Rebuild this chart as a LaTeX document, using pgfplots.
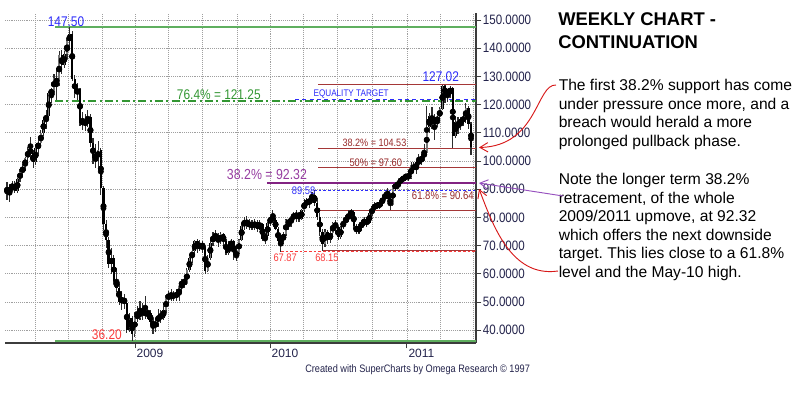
\documentclass[border=0pt]{standalone}
\usepackage{fontspec}
\setmainfont{Liberation Sans}
\newfontfamily\cf[FakeStretch=0.85]{Liberation Sans}
\usepackage{pgfplots}
\pgfplotsset{compat=1.18}
\usepackage{pgfplotstable}
\usetikzlibrary{arrows.meta}
\frenchspacing

\definecolor{lvlgreen}{RGB}{95,175,95}
\definecolor{dgreen}{RGB}{50,150,50}
\definecolor{lblue}{RGB}{45,45,250}
\definecolor{lvlred}{RGB}{165,55,55}
\definecolor{lblred}{RGB}{150,40,40}
\definecolor{brightred}{RGB}{250,60,60}
\definecolor{purp}{RGB}{130,35,130}
\definecolor{purplbl}{RGB}{150,60,160}
\definecolor{axcol}{RGB}{60,60,60}
\definecolor{tickcol}{RGB}{35,35,75}
\definecolor{upgray}{RGB}{120,120,120}
\definecolor{wickcol}{RGB}{45,45,45}
\definecolor{arrred}{RGB}{215,25,25}
\definecolor{arrpurp}{RGB}{150,80,190}

\pgfplotstableread{
i o h l c
0 90.5 92.5 86.0 89.0
1 89.0 92.0 85.5 90.5
2 90.5 93.0 89.0 91.5
3 91.5 93.0 88.5 89.5
4 89.5 94.0 88.5 93.5
5 93.5 97.0 92.5 96.0
6 96.0 99.0 94.5 98.0
7 98.0 101.5 96.5 101.0
8 101.0 105.0 99.5 104.0
9 104.0 108.5 102.0 103.0
10 103.0 104.0 97.5 99.5
11 99.5 106.0 98.5 104.5
12 104.5 108.0 102.5 106.5
13 106.5 111.0 105.0 110.0
14 110.0 115.5 109.0 114.5
15 114.5 118.0 111.5 116.0
16 116.0 124.5 115.0 124.0
17 124.0 126.0 120.5 125.0
18 125.0 131.0 123.5 129.5
19 129.5 133.0 121.5 127.5
20 127.5 139.0 126.5 137.5
21 137.5 139.5 131.0 134.0
22 134.0 139.0 133.0 138.0
23 138.0 143.5 136.0 142.5
24 142.5 147.5 139.5 145.0
25 145.0 146.0 128.5 129.0
26 129.0 130.5 122.5 124.0
27 124.0 127.5 121.5 125.5
28 125.5 126.0 112.5 113.5
29 113.5 117.5 111.0 114.0
30 114.0 116.5 110.5 113.0
31 113.0 118.0 112.0 115.5
32 115.5 116.5 105.0 106.5
33 106.5 108.0 99.0 101.0
34 101.0 106.0 97.5 100.5
35 100.5 107.0 98.0 104.0
36 104.0 104.5 88.0 90.5
37 90.5 91.0 75.5 77.5
38 77.5 79.0 69.0 72.0
39 72.0 73.0 62.0 63.5
40 63.5 69.0 60.0 65.5
41 65.5 66.5 56.5 57.5
42 57.5 61.0 53.5 55.0
43 55.0 57.0 49.0 50.0
44 50.0 54.0 47.0 51.5
45 51.5 53.0 47.5 49.5
46 49.5 50.0 39.0 40.0
47 40.0 46.0 39.5 44.5
48 44.5 45.0 36.2 38.5
49 38.5 46.5 37.5 45.5
50 45.5 48.5 43.0 44.5
51 44.5 50.5 43.5 47.0
52 47.0 49.5 43.5 46.5
53 46.5 52.0 44.0 45.5
54 45.5 48.5 44.0 46.0
55 46.0 47.0 42.0 43.0
56 43.0 44.5 38.5 41.5
57 41.5 44.5 39.5 42.5
58 42.5 47.5 41.0 45.5
59 45.5 47.0 42.5 44.5
60 44.5 48.5 43.5 47.0
61 47.0 52.5 46.0 51.5
62 51.5 54.0 49.5 52.5
63 52.5 54.5 50.5 51.5
64 51.5 54.0 50.5 53.0
65 53.0 54.5 50.5 52.0
66 52.0 56.0 50.5 55.5
67 55.5 58.0 53.5 57.5
68 57.5 59.5 55.0 56.5
69 56.5 62.0 56.0 61.5
70 61.5 66.0 60.5 65.5
71 65.5 69.0 64.0 68.0
72 68.0 72.0 67.0 71.5
73 71.5 72.5 67.5 69.0
74 69.0 72.0 68.0 70.5
75 70.5 71.5 67.5 69.5
76 69.5 70.0 60.0 61.0
77 61.0 66.5 60.5 65.5
78 65.5 72.0 65.0 71.0
79 71.0 75.0 70.0 73.5
80 73.5 75.5 71.5 73.0
81 73.0 74.5 69.5 71.5
82 71.5 75.0 70.5 74.0
83 74.0 74.5 70.0 71.5
84 71.5 72.5 66.5 67.5
85 67.5 71.5 66.5 70.0
86 70.0 72.5 68.5 71.5
87 71.5 72.0 65.0 66.5
88 66.5 68.5 64.5 67.5
89 67.5 72.5 67.0 72.0
90 72.0 78.0 71.5 77.0
91 77.0 80.0 75.5 79.0
92 79.0 80.5 76.0 77.0
93 77.0 79.5 75.5 78.0
94 78.0 79.0 75.5 76.5
95 76.5 79.5 75.5 78.5
96 78.5 79.0 75.0 76.0
97 76.0 79.0 75.5 77.5
98 77.5 78.0 71.5 72.5
99 72.5 74.5 70.5 73.5
100 73.5 78.5 73.0 78.0
101 78.0 80.5 77.0 80.0
102 80.0 82.5 78.5 79.0
103 79.0 79.5 75.5 76.0
104 76.0 76.5 70.5 71.5
105 71.5 73.5 67.87 72.0
106 72.0 75.0 70.5 74.0
107 74.0 79.5 73.5 79.0
108 79.0 79.5 75.5 77.5
109 77.5 81.0 76.5 80.5
110 80.5 82.0 79.0 80.0
111 80.0 82.5 78.5 81.5
112 81.5 82.0 78.5 79.5
113 79.5 83.0 79.0 82.5
114 82.5 86.5 82.0 85.5
115 85.5 87.0 83.5 85.0
116 85.0 87.5 83.5 86.5
117 86.5 89.0 85.0 88.0
118 88.0 89.58 84.0 85.0
119 85.0 86.0 79.0 80.0
120 80.0 81.5 73.5 75.0
121 75.0 76.0 68.15 70.5
122 70.5 76.0 69.5 75.0
123 75.0 75.5 70.5 72.0
124 72.0 75.5 71.0 74.5
125 74.5 78.5 73.5 78.0
126 78.0 79.0 75.0 76.5
127 76.5 77.0 72.0 73.0
128 73.0 77.0 72.5 76.5
129 76.5 79.5 76.0 78.5
130 78.5 81.0 77.5 79.5
131 79.5 82.5 78.5 81.0
132 81.0 83.0 80.0 82.0
133 82.0 82.5 76.0 77.0
134 77.0 77.5 74.0 75.0
135 75.0 77.5 74.0 76.5
136 76.5 79.0 76.0 78.0
137 78.0 80.0 77.0 79.0
138 79.0 80.0 76.5 78.0
139 78.0 82.0 77.5 81.5
140 81.5 84.0 80.5 83.0
141 83.0 85.5 82.0 84.5
142 84.5 85.5 83.0 84.0
143 84.0 86.0 83.0 85.0
144 85.0 87.5 84.0 87.0
145 87.0 89.0 86.0 88.0
146 88.0 90.5 86.5 87.0
147 87.0 87.5 82.5 84.5
148 84.5 91.5 84.0 91.0
149 91.0 92.5 89.5 91.0
150 91.0 93.0 90.0 92.5
151 92.5 94.5 91.5 93.5
152 93.5 95.0 92.5 94.0
153 94.0 95.5 93.0 95.0
154 95.0 96.5 93.0 94.0
155 94.0 99.5 93.5 98.5
156 98.5 99.5 96.0 97.0
157 97.0 100.0 95.5 99.5
158 99.5 102.5 98.5 100.0
159 100.0 102.5 98.5 101.5
160 101.5 106.0 100.0 103.0
161 103.0 119.5 102.5 112.0
162 112.0 117.0 110.0 116.0
163 116.0 119.0 111.5 113.8
164 113.8 116.5 107.5 114.0
165 114.0 116.0 112.0 115.5
166 115.5 119.0 114.5 118.5
167 118.5 127.02 118.0 126.5
168 126.5 127.0 120.5 123.5
169 123.5 125.5 121.0 124.0
170 124.0 126.7 122.5 125.9
171 125.9 126.3 104.5 109.0
172 109.0 116.0 108.0 113.8
173 113.8 115.5 109.5 112.4
174 112.4 115.5 111.0 115.0
175 115.0 117.0 112.5 114.6
176 114.6 120.5 113.5 118.8
177 118.8 119.5 111.5 113.0
178 113.0 114.0 102.0 105.0
}\ohlc

\begin{document}
\begin{tikzpicture}
\path[use as bounding box] (0,0) rectangle (598.5pt,-294.75pt);
\begin{axis}[
  at={(3.75pt,-257.25pt)}, anchor=south west,
  scale only axis, width=353.25pt, height=247.5pt,
  xmin=-0.77, xmax=179.9, ymin=35.46, ymax=152.48,
  axis x line*=bottom, axis y line*=right,
  axis line style={-, draw=axcol, line width=0.9pt},
  xtick={49.1,100.9,153.4}, xticklabels={2009,2010,2011},
  minor xtick={10.7,23.4,36.4,61.8,74.8,88.2,113.5,126.6,140.0,166.1,178.7},
  ytick={40,50,...,150},
  xmajorgrids, xminorgrids, ymajorgrids,
  grid style={densely dotted, gray!75, line width=0.5pt},
  minor grid style={densely dotted, gray!75, line width=0.5pt},
  tick align=outside,
  major tick length=4pt, minor tick length=0pt,
  tick style={draw=axcol, line width=0.7pt},
  yticklabel={\pgfmathprintnumber[fixed,fixed zerofill,precision=4,assume math mode=true]{\tick}},
  yticklabel style={font=\cf\fontsize{10.2pt}{12pt}\selectfont, text=tickcol, anchor=west, inner sep=0pt, xshift=1pt},
  xticklabel style={font=\fontsize{9pt}{10pt}\selectfont, text=tickcol, anchor=north west, inner sep=0pt, xshift=1pt, yshift=-0.5pt},
]
% level lines
\addplot[lvlgreen, line width=1.5pt, forget plot] coordinates {(18.4,147.5) (179.9,147.5)};
\addplot[dgreen, line width=0.9pt, dash pattern=on 6pt off 2.5pt on 1.5pt off 2.5pt, forget plot] coordinates {(18.4,121.25) (179.9,121.25)};
\addplot[lblue, line width=0.9pt, dash pattern=on 3pt off 2.5pt, forget plot] coordinates {(110.5,121.7) (179.9,121.7)};
\addplot[lvlred, line width=1pt, forget plot] coordinates {(119.3,127.02) (179.9,127.02)};
\addplot[lvlred, line width=1pt, forget plot] coordinates {(119.3,104.53) (179.9,104.53)};
\addplot[lvlred, line width=1pt, forget plot] coordinates {(119.3,97.60) (179.9,97.60)};
\addplot[lvlred, line width=1pt, forget plot] coordinates {(119.3,82.4) (179.9,82.4)};
\addplot[purp, line width=1.5pt, forget plot] coordinates {(99.7,92.32) (179.9,92.32)};
\addplot[lblue, line width=0.8pt, dash pattern=on 2pt off 1.5pt, forget plot] coordinates {(117.8,89.58) (179.9,89.58)};
\addplot[brightred, line width=0.8pt, dash pattern=on 2pt off 1.5pt, forget plot] coordinates {(105.1,67.87) (179.9,67.87)};
\addplot[lvlred, line width=1pt, forget plot] coordinates {(121.2,68.15) (179.9,68.15)};
\addplot[lvlgreen, line width=1.5pt, forget plot] coordinates {(18.4,36.2) (179.9,36.2)};
% wicks
\addplot[only marks, mark=none, forget plot, error bars/.cd, y dir=both, y explicit, error mark=none,
  error bar style={draw=wickcol, line width=0.85pt}]
  table[x=i, y expr={(\thisrow{h}+\thisrow{l})/2}, y error expr={(\thisrow{h}-\thisrow{l})/2}] {\ohlc};
% bodies (all, black)
\addplot[only marks, mark=none, forget plot, error bars/.cd, y dir=both, y explicit, error mark=none,
  error bar style={draw=black, line width=1.85pt}]
  table[x=i, y expr={(\thisrow{o}+\thisrow{c})/2}, y error expr={abs(\thisrow{o}-\thisrow{c})/2}] {\ohlc};
% up bodies grey inside
\addplot[only marks, mark=none, forget plot, error bars/.cd, y dir=both, y explicit, error mark=none,
  error bar style={draw=upgray, line width=1.15pt}]
  table[x=i, y expr={(\thisrow{o}+\thisrow{c})/2}, y error expr={(\thisrow{c}>\thisrow{o})*(\thisrow{c}-\thisrow{o})/2}] {\ohlc};
\end{axis}

\begin{scope}[x=0.75pt, y=-0.75pt]
% chart labels
\node[anchor=base west, inner sep=0pt, text=lblue, font=\cf\fontsize{10.5pt}{12pt}\selectfont] at (47.5,26.7) {147.50};
\node[anchor=base west, inner sep=0pt, text=dgreen, font=\cf\fontsize{10.5pt}{12pt}\selectfont] at (176.7,99.3) {76.4\% = 121.25};
\node[anchor=base west, inner sep=0pt, text=lblue, font=\cf\fontsize{7.2pt}{9pt}\selectfont] at (313.3,96.7) {EQUALITY TARGET};
\node[anchor=base west, inner sep=0pt, text=lblue, font=\cf\fontsize{10.5pt}{12pt}\selectfont] at (422.3,81.7) {127.02};
\node[anchor=base west, inner sep=0pt, text=lblred, font=\cf\fontsize{8pt}{9pt}\selectfont] at (342.3,146.5) {38.2\% = 104.53};
\node[anchor=base west, inner sep=0pt, text=lblred, font=\cf\fontsize{8.2pt}{9pt}\selectfont] at (349.3,166) {50\% = 97.60};
\node[anchor=base west, inner sep=0pt, text=purplbl, font=\cf\fontsize{10.9pt}{12pt}\selectfont] at (226.7,179) {38.2\% = 92.32};
\node[anchor=base west, inner sep=0pt, text=lblue, font=\cf\fontsize{8.2pt}{9pt}\selectfont] at (291.7,194) {89.58};
\node[anchor=base west, inner sep=0pt, text=lblred, font=\cf\fontsize{8.4pt}{9pt}\selectfont] at (411.7,199.3) {61.8\% = 90.64};
\node[anchor=base west, inner sep=0pt, text=brightred, font=\cf\fontsize{8.2pt}{9pt}\selectfont] at (273.3,261.7) {67.87};
\node[anchor=base west, inner sep=0pt, text=brightred, font=\cf\fontsize{8.2pt}{9pt}\selectfont] at (315,261.7) {68.15};
\node[anchor=base west, inner sep=0pt, text=brightred, font=\cf\fontsize{10.5pt}{12pt}\selectfont] at (91.7,339.3) {36.20};
\node[anchor=base west, inner sep=0pt, text=tickcol, font=\cf\fontsize{8.1pt}{9pt}\selectfont] at (305,372) {Created with SuperCharts by Omega Research \textcopyright{} 1997};
% title
\node[anchor=base west, inner sep=0pt, font=\bfseries\fontsize{13.8pt}{16pt}\selectfont] at (558,25) {WEEKLY CHART -};
\node[anchor=base west, inner sep=0pt, font=\bfseries\fontsize{13.8pt}{16pt}\selectfont] at (558,48.3) {CONTINUATION};
% body
\begin{scope}[every node/.style={anchor=base west, inner sep=0pt, font=\fontsize{11.7pt}{14pt}\selectfont}]
\node at (558.5,90.5) {The first 38.2\% support has come};
\node at (558.5,109.1) {under pressure once more, and a};
\node at (558.5,127.7) {breach would herald a more};
\node at (558.5,146.3) {prolonged pullback phase.};
\node at (558.5,184.8) {Note the longer term 38.2\%};
\node at (558.5,203.3) {retracement, of the whole};
\node at (558.5,221.8) {2009/2011 upmove, at 92.32};
\node at (558.5,240.3) {which offers the next downside};
\node at (558.5,258.8) {target. This lies close to a 61.8\%};
\node at (558.5,277.3) {level and the May-10 high.};
\end{scope}
% arrows
\draw[arrred, line width=0.7pt, -{Straight Barb[length=6pt,width=7pt]}] (556,85) .. controls (536,84) and (538,146) .. (479,147.5);
\draw[arrpurp, line width=0.7pt, -{Straight Barb[length=6pt,width=7pt]}] (563,196) -- (479,183);
\draw[arrred, line width=0.7pt, -{Straight Barb[length=6pt,width=7pt]}] (558,271) .. controls (510,278) and (492,222) .. (479,189);
\end{scope}
\end{tikzpicture}
\end{document}
